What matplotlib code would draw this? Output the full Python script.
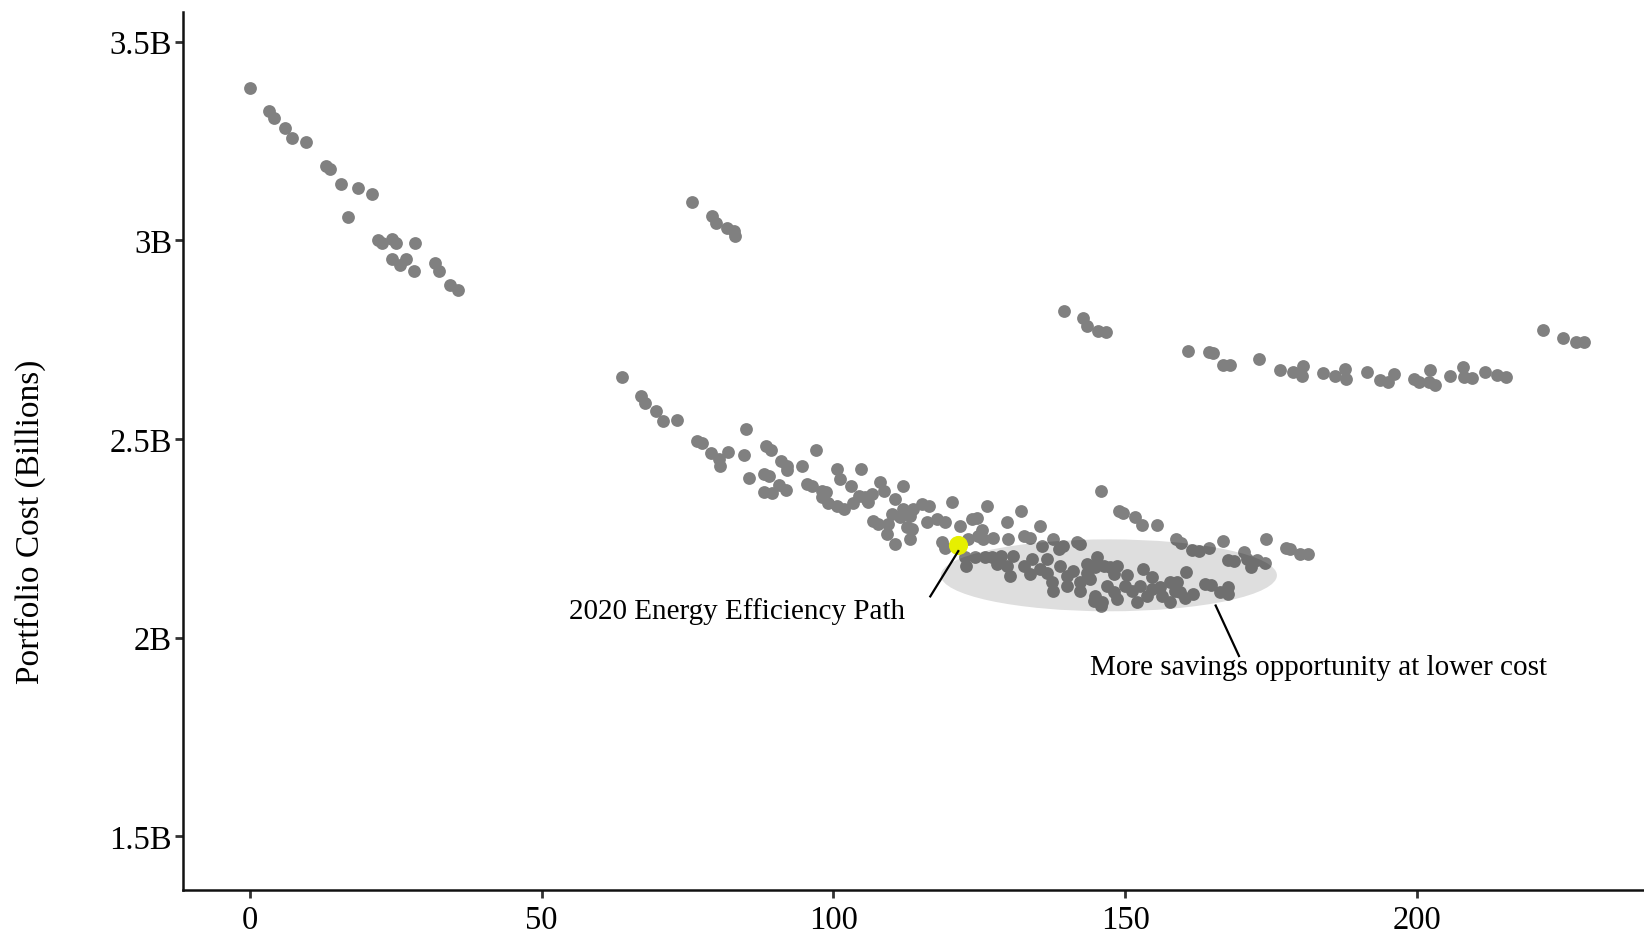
import matplotlib
matplotlib.use("Agg")
import matplotlib.pyplot as plt
from matplotlib.patches import Ellipse

plt.rcParams['font.family'] = ['Liberation Serif', 'DejaVu Serif']

# savings (x) and portfolio cost in billions (y)
savings = [
    # top-left chain
    0.05, 3.3, 4.2, 6.0, 7.3, 9.6, 13.0, 13.8, 15.6, 18.5, 21.0, 16.9, 21.9, 22.7, 24.3,
    25.1, 28.3, 24.4, 25.7, 26.8, 28.2, 31.7, 32.4, 34.3, 35.6,
    # small group near 3.05B
    75.8, 79.2, 79.9, 81.7, 83.0, 83.1,
    # lower chain
    63.7, 67.0, 67.7, 69.6, 70.8, 73.2, 85.0, 76.6, 77.4, 79.1, 80.4, 80.6, 82.0, 84.6,
    88.4, 89.3, 97.1, 91.0, 92.0, 92.1, 94.6, 85.6, 88.1, 88.9, 88.1, 89.4, 90.6, 91.8,
    95.4, 96.3, 98.0, 98.8, 98.0, 99.1, 100.6, 101.2, 104.7, 103.0, 104.3, 100.6, 101.8,
    103.4, 105.7,
    108.0, 111.9, 108.6, 106.6, 105.4, 106.0, 110.6, 115.1, 116.3, 113.7, 112.0, 110.0,
    111.4, 113.1, 106.8, 107.7, 109.4, 112.6, 116.0, 117.7, 119.1, 120.3, 109.1, 110.6,
    113.1, 113.4, 121.7, 123.7, 126.3, 124.6, 125.4, 127.4, 129.7, 130.0, 132.1, 135.4,
    132.6, 133.7, 119.1, 118.6, 123.1, 124.8, 125.7, 122.6, 122.8, 124.3, 126.0, 127.1,
    128.8, 130.8, 128.0, 129.7, 130.3, 132.6, 134.0, 135.7, 137.7, 138.6, 139.4, 141.7,
    135.4, 136.6, 137.4, 138.8, 140.0, 141.1, 142.3, 143.4, 143.7, 136.6, 133.7,
    137.7, 144.7, 145.9, 142.3, 140.1,
    145.8, 149.0, 149.7, 151.7, 152.8, 155.4, 158.7, 159.5, 161.4, 162.7, 164.3, 166.7,
    167.7, 168.6, 170.3, 170.8, 171.5, 172.6, 174.0, 174.1, 177.6, 178.3, 180.0, 181.4,
    142.3, 145.1, 144.8, 146.3, 147.4, 148.6, 148.0, 150.3, 153.0, 154.6, 160.4, 163.7,
    164.7, 166.3, 167.7, 167.7, 144.0, 144.8, 146.0, 146.8, 148.0, 148.6, 150.0,
    151.1, 152.0, 152.6, 153.7, 154.6, 156.3, 156.0, 157.7, 157.7, 158.8, 159.4, 160.3,
    161.7, 158.6, 143.4,
    # group near 2.8B
    139.5, 142.8, 143.5, 145.3, 146.7,
    # flat line near 2.67B
    160.8, 164.3, 165.0, 166.8, 168.0, 172.9, 176.5, 178.8, 180.4, 180.3, 183.9, 186.0,
    187.7, 187.9, 191.4, 193.6, 195.0, 196.1, 199.5, 200.4, 202.2, 202.0, 203.1, 205.7,
    207.9, 208.0, 209.4, 211.7, 213.7, 215.3,
    # far right
    221.6, 225.1, 227.3, 228.7,
]
cost = [
    3.383, 3.325, 3.307, 3.283, 3.257, 3.247, 3.188, 3.180, 3.141, 3.131, 3.117, 3.058, 3.001,
    2.994, 3.003, 2.994, 2.992, 2.952, 2.939, 2.954, 2.923, 2.942, 2.922, 2.888, 2.875,
    3.097, 3.062, 3.044, 3.031, 3.024, 3.010,
    2.657, 2.607, 2.591, 2.570, 2.546, 2.548, 2.526, 2.494, 2.490, 2.466, 2.450, 2.433,
    2.468, 2.460, 2.482, 2.473, 2.472, 2.445, 2.431, 2.423, 2.433, 2.403, 2.412, 2.408,
    2.367, 2.363, 2.384, 2.372, 2.387, 2.381, 2.370, 2.366, 2.353, 2.338, 2.424, 2.399,
    2.424, 2.383, 2.357, 2.332, 2.324, 2.339, 2.347,
    2.391, 2.383, 2.370, 2.362, 2.353, 2.341, 2.349, 2.336, 2.332, 2.324, 2.324, 2.311,
    2.303, 2.307, 2.294, 2.286, 2.286, 2.278, 2.290, 2.299, 2.290, 2.341, 2.261, 2.236,
    2.248, 2.273, 2.280, 2.299, 2.331, 2.300, 2.272, 2.252, 2.290, 2.248, 2.320, 2.280,
    2.257, 2.252, 2.227, 2.240, 2.248, 2.257, 2.248, 2.202, 2.181, 2.202, 2.202, 2.202,
    2.206, 2.206, 2.185, 2.181, 2.156, 2.181, 2.198, 2.232, 2.248, 2.223, 2.232, 2.240,
    2.173, 2.164, 2.139, 2.181, 2.156, 2.169, 2.139, 2.185, 2.156, 2.198, 2.160,
    2.118, 2.093, 2.080, 2.118, 2.131,
    2.370, 2.320, 2.314, 2.303, 2.284, 2.284, 2.248, 2.238, 2.221, 2.219, 2.227, 2.244,
    2.196, 2.194, 2.215, 2.198, 2.177, 2.196, 2.188, 2.248, 2.225, 2.223, 2.211, 2.211,
    2.236, 2.202, 2.177, 2.181, 2.177, 2.181, 2.160, 2.158, 2.173, 2.154, 2.166, 2.135,
    2.133, 2.116, 2.110, 2.127, 2.148, 2.106, 2.089, 2.131, 2.114, 2.097, 2.131,
    2.118, 2.089, 2.131, 2.106, 2.122, 2.106, 2.127, 2.139, 2.089, 2.139, 2.114, 2.099,
    2.110, 2.118, 2.164,
    2.821, 2.804, 2.785, 2.771, 2.769,
    2.722, 2.720, 2.716, 2.686, 2.686, 2.701, 2.674, 2.668, 2.683, 2.658, 2.666, 2.659,
    2.676, 2.651, 2.668, 2.649, 2.643, 2.664, 2.651, 2.644, 2.674, 2.643, 2.636, 2.658,
    2.680, 2.655, 2.653, 2.669, 2.661, 2.655,
    2.774, 2.753, 2.745, 2.743,
]

current_path = (121.3, 2.234)
xticks = [0, 50, 100, 150, 200]
yticks = [1.5, 2.0, 2.5, 3.0, 3.5]

fig = plt.figure(figsize=(16.44, 9.37), dpi=100)
ax = fig.add_axes([0.1115, 0.0494, 0.8885, 0.937])

ax.scatter(savings, cost, s=85, color='#808080', linewidths=0, zorder=2)

# shaded region of cheaper options
ax.add_patch(Ellipse((147.2, 2.157), 57.6, 0.181, facecolor='black', alpha=0.13,
                     edgecolor='none', zorder=3))

ax.scatter([current_path[0]], [current_path[1]], s=190, color='#e6ef00',
           linewidths=0, zorder=4)

ax.plot([121.4, 116.6], [2.218, 2.104], color='black', lw=1.6, zorder=5)
ax.text(112.3, 2.069, '2020 Energy Efficiency Path', ha='right', va='center', fontsize=21)

ax.plot([165.5, 169.5], [2.081, 1.954], color='black', lw=1.6, zorder=5)
ax.text(183.1, 1.926, 'More savings opportunity at lower cost', ha='center', va='center',
        fontsize=21)

ax.set_xlim(-11.4, 238.9)
ax.set_ylim(1.366, 3.575)
ax.set_xticks(xticks)
ax.set_xticklabels([str(t) for t in xticks])
ax.set_yticks(yticks)
ax.set_yticklabels([f'{t:g}B' for t in yticks])

ax.spines['top'].set_visible(False)
ax.spines['right'].set_visible(False)
for side in ['left', 'bottom']:
    ax.spines[side].set_linewidth(1.8)
    ax.spines[side].set_color('#111111')
ax.tick_params(axis='both', length=6, width=2, color='#333333', labelsize=23.5)
ax.tick_params(axis='y', pad=2)
ax.tick_params(axis='x', pad=5)

ax.set_ylabel('Portfolio Cost (Billions)', fontsize=24)
ax.yaxis.set_label_coords(-0.094, 0.42)

fig.savefig('out.png', dpi=100)
